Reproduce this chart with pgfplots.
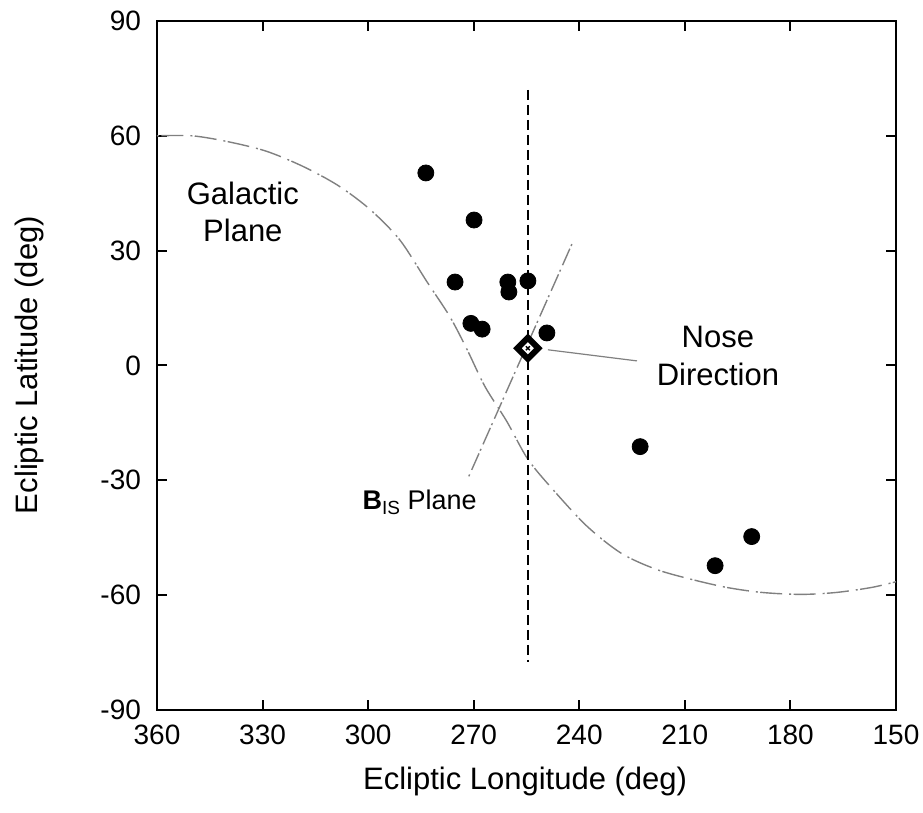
\documentclass[border=0pt]{standalone}
\usepackage{fontspec}
\setmainfont{Liberation Sans}
\usepackage{pgfplots}
\pgfplotsset{compat=1.18}
\definecolor{curvegray}{gray}{0.5}
\begin{document}
\begin{tikzpicture}
\path[use as bounding box] (0,0) rectangle (461.5pt,406.5pt);
\begin{axis}[
  at={(78.5pt,51.5pt)}, anchor=south west,
  scale only axis, width=369.5pt, height=344.5pt,
  xmin=150, xmax=360, ymin=-90, ymax=90, x dir=reverse,
  xtick={150,180,210,240,270,300,330,360},
  xticklabels={150,180,210,240,270,300,330,360},
  ytick={-90,-60,-30,0,30,60,90},
  yticklabels={-90,-60,-30,0,30,60,90},
  tick align=inside, major tick length=5pt,
  axis line style={line width=1pt},
  tick style={line width=1pt, black},
  ticklabel style={font=\fontsize{14}{16}\selectfont},
  xticklabel style={yshift=-4pt},
  yticklabel style={xshift=-4.5pt},
  clip=false,
]
% Galactic plane
\addplot[curvegray, line width=0.7pt, smooth, dash pattern=on 1pt off 1.2pt on 11pt off 3.5pt] coordinates {
(360,60) (350,60) (340,58.5) (329,56) (318.5,52) (308.5,47) (299.5,40.8)
(291,32.8) (283.3,21.9) (276.8,12.8) (271.9,4.2) (266.8,-5.5) (260.6,-14.6)
(254.6,-24.5) (247.5,-32.4) (237.8,-42) (228,-49.1) (218,-53.3) (208,-55.9)
(198,-58) (188,-59.3) (177,-59.8) (167,-59.3) (157,-58) (150,-56.5)
};
% B_IS plane
\addplot[curvegray, line width=0.7pt, dash pattern=on 1pt off 1.5pt on 9pt off 2.5pt] coordinates {
(242.1,31.7) (271.6,-29.4)
};
% nose direction vertical
\addplot[black, line width=1pt, dash pattern=on 5pt off 2.5pt] coordinates {
(254.6,72.0) (254.6,-77.5)
};
% leader line
\addplot[curvegray, line width=0.6pt] coordinates {
(248.9,4.1) (223.6,1.2)
};
% data points
\addplot[only marks, mark=*, mark size=4pt, black] coordinates {
(283.6,50.3) (269.9,38.0) (275.3,21.8) (260.3,21.8) (260.0,19.2) (254.6,22.1)
(270.8,11.0) (267.6,9.5) (249.2,8.5) (222.7,-21.2) (201.4,-52.3) (191.0,-44.7)
};
% nose diamond
\addplot[only marks, mark=square*, mark size=3.7pt,
  mark options={rotate=45, fill=white, draw=black, line width=3pt}] coordinates {
(254.6,4.5)
};
\addplot[only marks, mark=x, mark size=1.4pt, mark options={line width=0.7pt, black}] coordinates {
(254.6,4.5)
};
\node[anchor=base, font=\fontsize{15.5}{18}\selectfont] at (axis cs:335.6,42.0) {Galactic};
\node[anchor=base, font=\fontsize{15.5}{18}\selectfont] at (axis cs:335.6,32.4) {Plane};
\node[anchor=base, font=\fontsize{15.5}{18}\selectfont] at (axis cs:200.6,4.8) {Nose};
\node[anchor=base, font=\fontsize{15.5}{18}\selectfont] at (axis cs:200.6,-5.1) {Direction};
\node[anchor=base west, inner sep=0pt, font=\fontsize{13.5}{16}\selectfont] at (axis cs:301.7,-37.7) {\textbf{B}\raisebox{-0.35ex}{\fontsize{9.5}{11}\selectfont IS} Plane};
\node[anchor=base, font=\fontsize{15.5}{18}\selectfont] at (axis cs:255.4,-110.9) {Ecliptic Longitude (deg)};
\end{axis}
\node[anchor=base, rotate=90, font=\fontsize{15.5}{18}\selectfont] at (18.75pt,224pt) {Ecliptic Latitude (deg)};
\end{tikzpicture}
\end{document}
